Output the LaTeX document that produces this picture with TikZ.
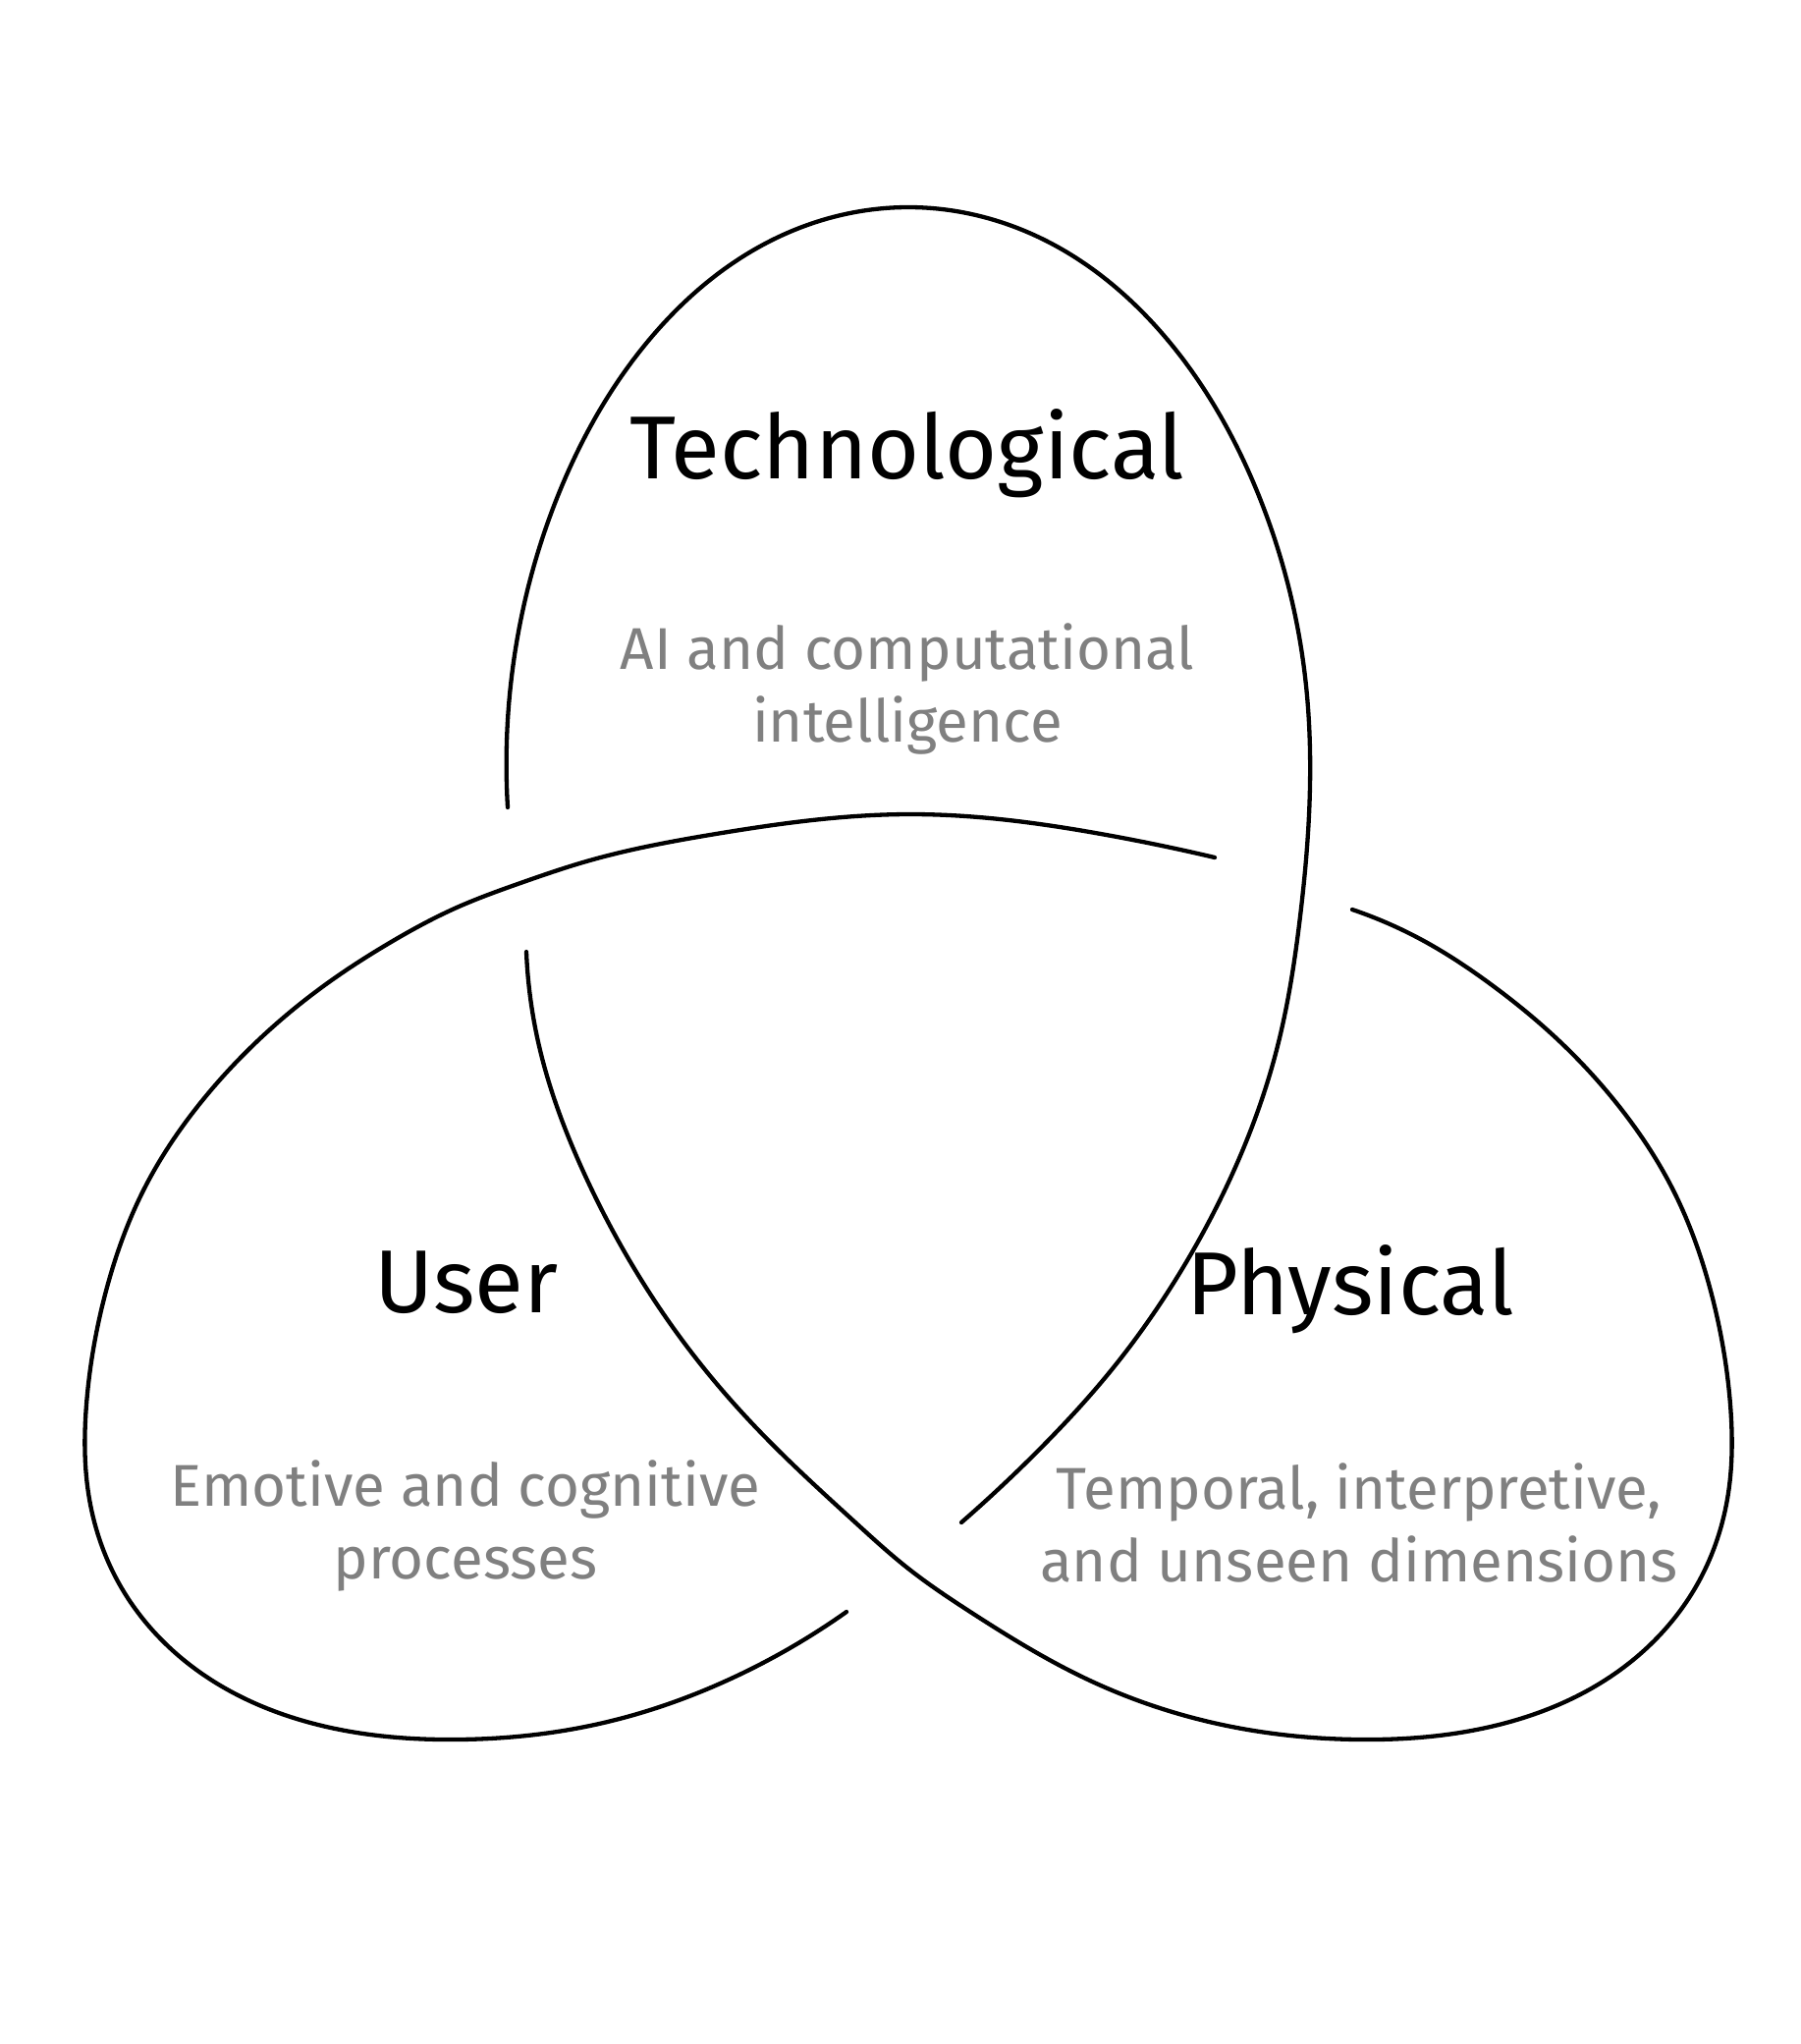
\documentclass[tikz,border=0pt]{standalone}
\usepackage{fontspec}
\setmainfont{Fira Sans}
\usetikzlibrary{hobby}
\definecolor{subgray}{HTML}{808080}
\begin{document}
\begin{tikzpicture}[x=1pt,y=-1pt,
  strand/.style={line width=4.3pt, line cap=round, draw=black, use Hobby shortcut},
  title/.style={font=\fontsize{91}{100}\selectfont, anchor=base, text=black, inner sep=0pt},
  sub/.style={font=\fontsize{60}{74}\selectfont, anchor=base, text=subgray, align=center, inner sep=0pt}]
\fill[white] (0,0) rectangle (1834,2081);
\useasboundingbox (0,0) rectangle (1834,2081);
% technological lobe (over at the right crossing)
\draw[strand] (979,1550) .. (1064,1470) .. (1130,1397) .. (1205,1290) .. (1255,1195)
  .. (1301,1065) .. (1324,933) .. (1334,800) .. (1329,689) .. (1280,500)
  .. (1189,346) .. (1065,245) .. (925,211) .. (785,245) .. (661,346)
  .. (570,500) .. (521,689) .. (517,822);
% physical lobe (over at the bottom crossing)
\draw[strand] (536,969) .. (549,1065) .. (595,1195) .. (645,1290) .. (720,1397)
  .. (786,1470) .. (871,1550) .. (925,1597) .. (988,1641) .. (1110,1711)
  .. (1240,1755) .. (1383,1771) .. (1530,1755) .. (1650,1700) .. (1730,1610)
  .. (1760,1520) .. (1762,1430) .. (1743,1318) .. (1703,1210) .. (1650,1128)
  .. (1588,1060) .. (1518,1002) .. (1450,958) .. (1377,926);
% user lobe (over at the left crossing)
\draw[strand] (1237,873) .. (1121,849) .. (925,829) .. (729,849) .. (597,877)
  .. (530,899) .. (465,924) .. (400,958) .. (332,1002) .. (262,1060)
  .. (200,1128) .. (147,1210) .. (107,1318) .. (88,1430) .. (90,1520)
  .. (120,1610) .. (200,1700) .. (320,1755) .. (467,1771) .. (610,1755)
  .. (740,1711) .. (862,1641);
\node[title] (tech) at (924,487) {Technological};
\node[sub] (techsub) at (924,755) {AI and computational\\intelligence};
\node[title] (user) at (475,1336) {User};
\node[sub] (usersub) at (474,1607) {Emotive and cognitive\\processes};
\node[title] (phys) at (1375,1338) {Physical};
\node[sub] (physsub) at (1384,1610) {Temporal, interpretive,\\and unseen dimensions};
\end{tikzpicture}
\end{document}
